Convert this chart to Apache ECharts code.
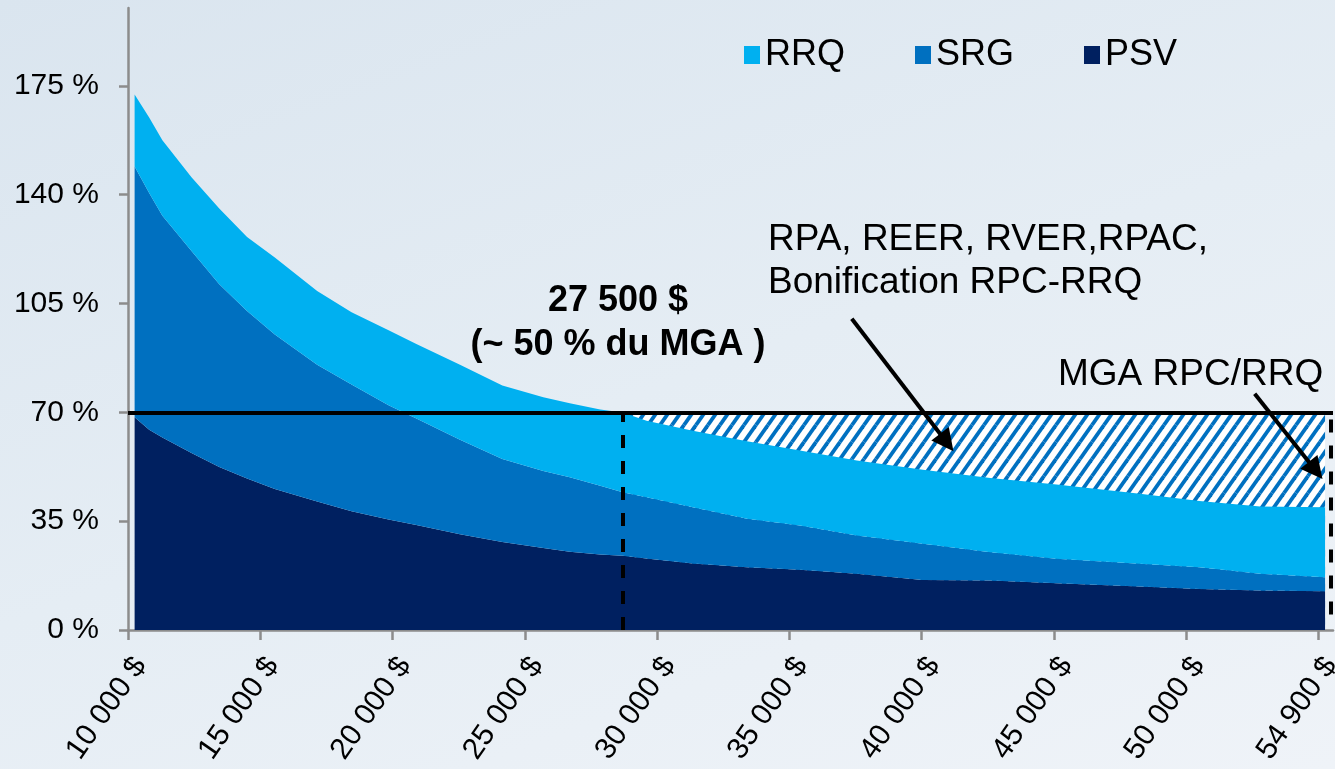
<!DOCTYPE html>
<html><head><meta charset="utf-8">
<script src="https://cdn.jsdelivr.net/npm/echarts@6/dist/echarts.min.js"></script>
<style>
html,body{margin:0;padding:0;width:1335px;height:769px;overflow:hidden;
background:linear-gradient(160deg,#dae5ef 0%,#e5edf4 50%,#eff3f8 100%);}
#c{width:1335px;height:769px;}
</style></head>
<body><div id="c"></div>
<script>
// Revenu (position on the income axis)
const incomes = [10250, 10800, 11300, 12400, 13450, 14500, 15550, 17150, 18450, 19850, 20900, 22550, 24150, 25700, 26700, 27850, 28700, 29600, 31350, 33400, 35400, 37550, 40050, 42600, 45100, 48250, 50500, 52800, 55250];
// Taux de remplacement (%)
const psvValues = [68.4, 64.4, 61.9, 56.9, 52.4, 48.7, 45.3, 41.3, 38.2, 35.5, 33.8, 30.8, 28.3, 26.4, 25.2, 24.3, 23.9, 23.0, 21.4, 20.2, 19.4, 18.1, 16.1, 15.9, 15.0, 14.0, 13.2, 12.7, 12.5];
const srgValues = [80.6, 76.1, 71.3, 65.0, 58.8, 53.9, 49.7, 44.0, 40.7, 36.8, 34.2, 30.4, 26.7, 24.7, 23.9, 22.1, 20.4, 19.7, 18.1, 15.6, 14.2, 12.3, 11.6, 9.1, 7.9, 7.3, 7.0, 5.4, 4.5];
const rrqValues = [23.2, 24.3, 24.3, 23.7, 24.3, 23.8, 24.8, 23.7, 23.3, 24.1, 24.0, 24.1, 23.6, 23.7, 23.8, 24.5, 25.6, 24.6, 24.6, 24.9, 24.1, 24.1, 23.8, 23.9, 23.9, 22.5, 21.3, 21.6, 22.5];
// Cible 70 % et zone hachurée
const targetLevel = 70;
const hatchX = [28700, 55250];
const thresholdX = 28700;   // 27 500 $
const mgaX = 55460;         // MGA RPC/RRQ
// Axes
const xTickValues = [10000, 15000, 20000, 25000, 30000, 35000, 40000, 45000, 50000, 55000];
const xTickLabels = ['10 000 $', '15 000 $', '20 000 $', '25 000 $', '30 000 $', '35 000 $', '40 000 $', '45 000 $', '50 000 $', '54 900 $'];
const yTickValues = [0, 35, 70, 105, 140, 175];
const yTickLabels = ['0 %', '35 %', '70 %', '105 %', '140 %', '175 %'];
const seriesNames = ['RRQ', 'SRG', 'PSV'];
const colors = {RRQ: '#00b0f0', SRG: '#0070c0', PSV: '#002060'};

// value first, income second, so the library stacks on the value dimension
const pair = (vals) => incomes.map((x, i) => [vals[i], x]);

// hatch pattern
const pw = 12, ph = 17;
const cv = document.createElement('canvas');
cv.width = pw; cv.height = ph;
const g = cv.getContext('2d');
g.fillStyle = '#ffffff'; g.fillRect(0, 0, pw, ph);
g.strokeStyle = '#0070c0'; g.lineWidth = 3.8;
for (const [ox, oy] of [[0,0],[-pw,0],[pw,0],[0,-ph],[0,ph]]) {
  g.beginPath(); g.moveTo(ox, oy + ph); g.lineTo(ox + pw, oy); g.stroke();
}

const FONT = '"Liberation Sans", Arial, sans-serif';
const chart = echarts.init(document.getElementById('c'), null, {renderer: 'canvas'});
const areaSeries = (name, vals) => ({
  name, type: 'line', stack: 'total', data: pair(vals), encode: {x: 1, y: 0},
  showSymbol: false, symbol: 'none',
  lineStyle: {width: 0}, areaStyle: {color: colors[name], opacity: 1},
  itemStyle: {color: colors[name]}, z: 2, silent: true
});
chart.setOption({
  animation: false,
  backgroundColor: 'transparent',
  textStyle: {fontFamily: FONT},
  grid: {left: 128, right: 2, top: 8, bottom: 139, containLabel: false, outerBoundsMode: 'none'},
  legend: {
    data: seriesNames, left: 739, top: 32, icon: 'rect', itemWidth: 16, itemHeight: 18, itemGap: 70,
    textStyle: {fontSize: 36, color: '#000', fontFamily: FONT, lineHeight: 36}, selectedMode: false
  },
  xAxis: {
    type: 'value', min: 10000, max: 55550, interval: 5000,
    splitLine: {show: false},
    axisLine: {show: true, lineStyle: {color: '#8c8c8c', width: 2.5}},
    axisTick: {show: true, length: 10, lineStyle: {color: '#8c8c8c', width: 2.5}, customValues: xTickValues},
    axisLabel: {
      rotate: 55, margin: 22, fontSize: 30, color: '#000', fontFamily: FONT, verticalAlign: 'top',
      hideOverlap: false,
      customValues: xTickValues,
      formatter: (v) => { const i = xTickValues.indexOf(v); return i >= 0 ? xTickLabels[i] : ''; }
    }
  },
  yAxis: {
    type: 'value', min: 0, max: 200, interval: 35,
    splitLine: {show: false},
    axisLine: {show: true, lineStyle: {color: '#8c8c8c', width: 2.5}},
    axisTick: {show: true, length: 9, lineStyle: {color: '#8c8c8c', width: 2.5}, customValues: yTickValues},
    axisLabel: {
      margin: 29, fontSize: 30, color: '#000', fontFamily: FONT,
      customValues: yTickValues,
      formatter: (v) => { const i = yTickValues.indexOf(v); return i >= 0 ? yTickLabels[i] : ''; }
    }
  },
  series: [
    {
      name: 'RPA', type: 'line', data: hatchX.map(x => [x, targetLevel]), showSymbol: false, symbol: 'none',
      lineStyle: {width: 0}, areaStyle: {color: {image: cv, repeat: 'repeat'}, opacity: 1}, z: 1, silent: true
    },
    areaSeries('PSV', psvValues),
    areaSeries('SRG', srgValues),
    areaSeries('RRQ', rrqValues),
    {
      name: 'annot', type: 'line', data: [], z: 5, silent: true,
      markLine: {
        silent: true, symbol: ['none', 'none'], label: {show: false}, animation: false,
        lineStyle: {color: '#000', width: 4, type: 'solid'},
        data: [
          [{coord: [10000, targetLevel]}, {coord: [55550, targetLevel]}],
          [{coord: [thresholdX, 0], lineStyle: {type: [13, 13], width: 4, color: '#000'}},
           {coord: [thresholdX, targetLevel]}],
          [{coord: [mgaX, 5], lineStyle: {type: [13, 13], width: 4, color: '#000'}},
           {coord: [mgaX, targetLevel]}],
          [{coord: [37360, 100.1], symbol: 'none'},
           {coord: [40950, 60.3], symbol: 'triangle', symbolSize: 22}],
          [{coord: [52590, 76.0], symbol: 'none'},
           {coord: [54895, 51.3], symbol: 'triangle', symbolSize: 22}]
        ]
      }
    }
  ],
  graphic: [
    {type: 'text', x: 618, y: 301, z: 10, style: {text: '27 500 $', font: 'bold 36px ' + FONT, fill: '#000', align: 'center', verticalAlign: 'middle'}},
    {type: 'text', x: 618, y: 345, z: 10, style: {text: '(~ 50 % du MGA )', font: 'bold 36px ' + FONT, fill: '#000', align: 'center', verticalAlign: 'middle'}},
    {type: 'text', x: 768, y: 240, z: 10, style: {text: 'RPA, REER, RVER,RPAC,', font: '37px ' + FONT, fill: '#000', align: 'left', verticalAlign: 'middle'}},
    {type: 'text', x: 768, y: 283, z: 10, style: {text: 'Bonification RPC-RRQ', font: '37px ' + FONT, fill: '#000', align: 'left', verticalAlign: 'middle'}},
    {type: 'text', x: 1058, y: 375, z: 10, style: {text: 'MGA RPC/RRQ', font: '37px ' + FONT, fill: '#000', align: 'left', verticalAlign: 'middle'}}
  ]
});
</script>
</body></html>
